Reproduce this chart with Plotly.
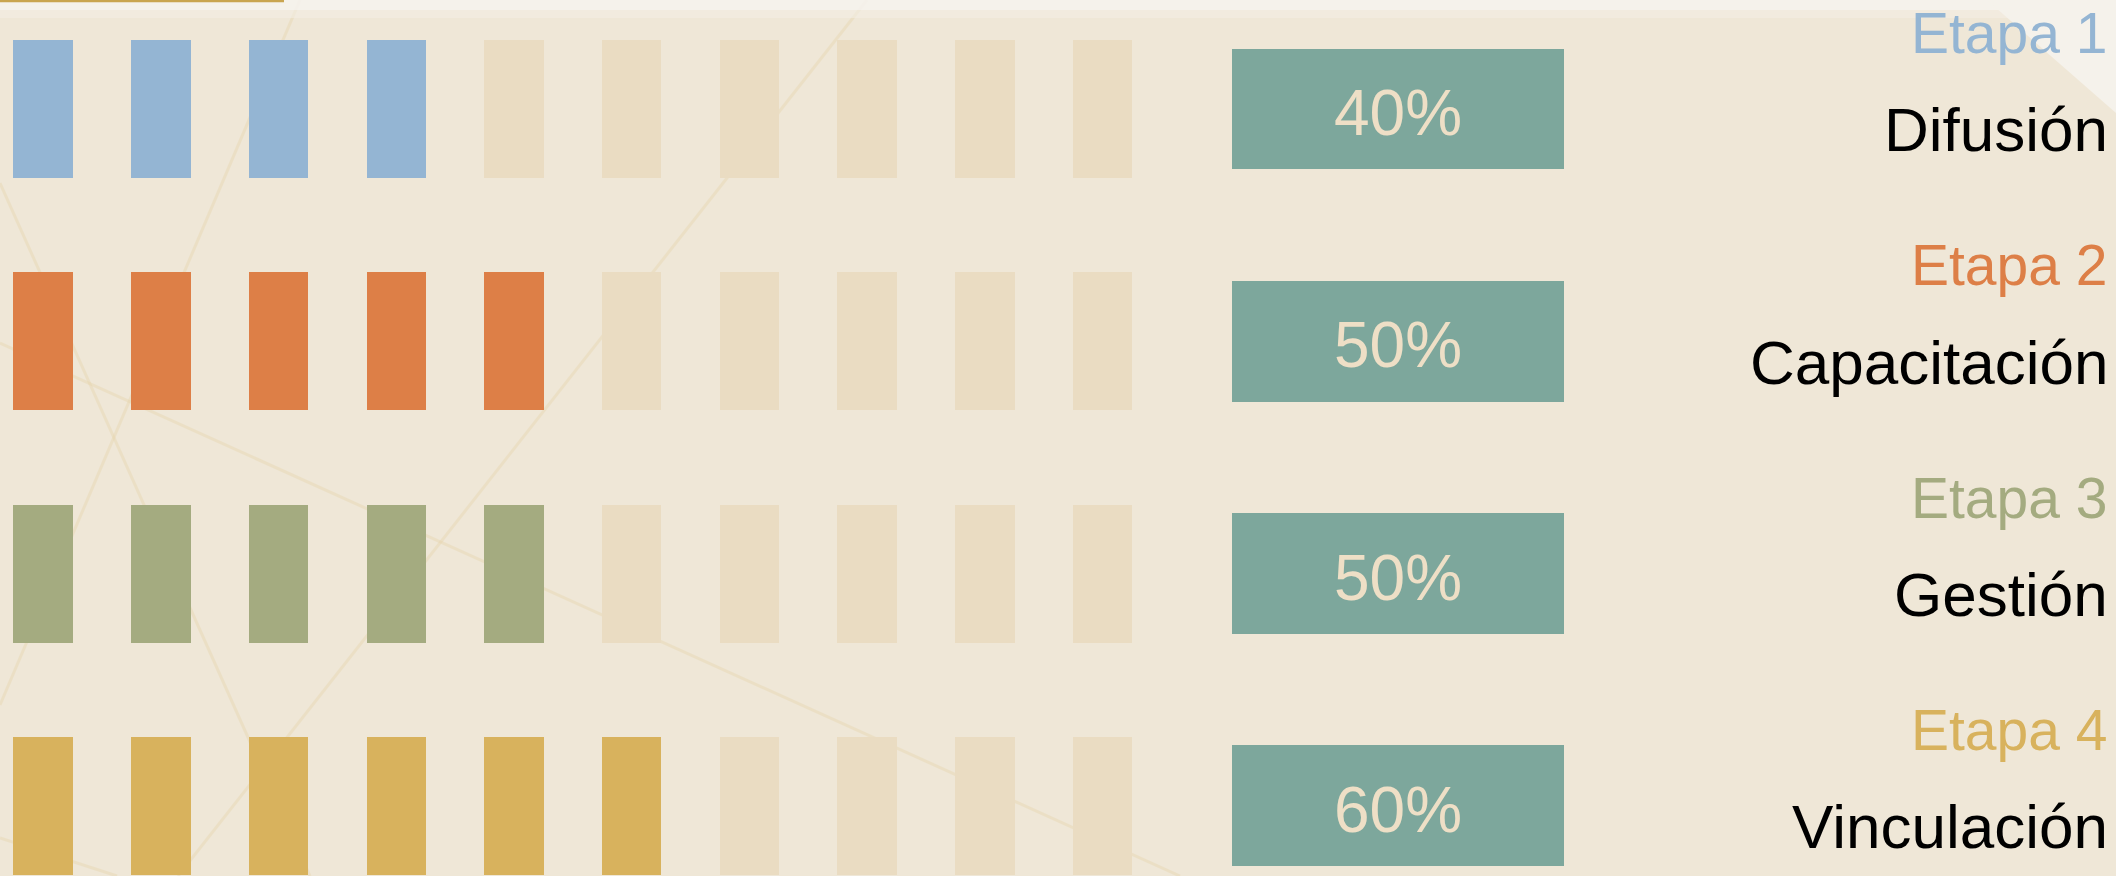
import plotly.graph_objects as go

# ---------------- data ----------------
stages = ["Etapa 1", "Etapa 2", "Etapa 3", "Etapa 4"]
areas = ["Difusión", "Capacitación", "Gestión", "Vinculación"]
progress = [40, 50, 50, 60]          # percent complete
stage_colors = ["#94B5D3", "#DD7F47", "#A4AB80", "#D8B25D"]
n_cells = 10                          # cells per row
cell_value = 10                       # percent per cell

# ---------------- style ----------------
empty_color = "#EADCC2"
box_color = "#7DA79C"
pct_color = "#EEDFC6"
bg_color = "#EFE7D7"
font_family = "Liberation Sans, Arial, sans-serif"
W, H = 2116, 876

# geometry in axis units (x: one unit per cell, y: one unit per row)
bar_w = 0.505
bar_h = 0.594
box_x = 11.51
box_w = 2.82
box_h = 0.52
x_range = [-0.367, 17.611]
y_range = [3.302, -0.469]

fig = go.Figure()

for r, (p, col) in enumerate(zip(progress, stage_colors)):
    filled = p // cell_value
    xs_f = list(range(filled))
    xs_e = list(range(filled, n_cells))
    fig.add_trace(go.Bar(
        x=xs_f, y=[bar_h] * len(xs_f), base=[r - bar_h / 2] * len(xs_f),
        width=bar_w, marker=dict(color=col, line=dict(width=0)),
        name=stages[r], hoverinfo="skip", showlegend=False))
    fig.add_trace(go.Bar(
        x=xs_e, y=[bar_h] * len(xs_e), base=[r - bar_h / 2] * len(xs_e),
        width=bar_w, marker=dict(color=empty_color, line=dict(width=0)),
        hoverinfo="skip", showlegend=False))

# percentage boxes
rows = list(range(len(progress)))
fig.add_trace(go.Bar(
    x=[box_x] * len(rows), y=[box_h] * len(rows),
    base=[r - box_h / 2 for r in rows], width=box_w,
    marker=dict(color=box_color, line=dict(width=0)),
    hoverinfo="skip", showlegend=False))

annotations = []
for r, p in enumerate(progress):
    annotations.append(dict(
        x=box_x, y=r + 0.018, xref="x", yref="y", text=f"{p}%", showarrow=False,
        xanchor="center", yanchor="middle",
        font=dict(family=font_family, size=64, color=pct_color)))
    annotations.append(dict(
        x=2110 / W, y=r - 0.327, xref="paper", yref="y", text=stages[r],
        showarrow=False, xanchor="right", yanchor="middle",
        font=dict(family=font_family, size=57, color=stage_colors[r])))
    annotations.append(dict(
        x=2110 / W, y=r + 0.09, xref="paper", yref="y", text=areas[r],
        showarrow=False, xanchor="right", yanchor="middle",
        font=dict(family=font_family, size=62, color="#000000")))

# ---------------- background decoration (pixel coords) ----------------
deco_lines = [
    ((0, 183), (310, 876)),
    ((300, 0), (0, 705)),
    ((0, 343), (1180, 876)),
    ((867, 0), (178, 876)),
    ((0, 838), (117, 876)),
]
shapes = []
for (x0, y0), (x1, y1) in deco_lines:
    shapes.append(dict(
        type="line", xref="paper", yref="paper", layer="below",
        x0=x0 / W, y0=1 - y0 / H, x1=x1 / W, y1=1 - y1 / H,
        line=dict(color="#E6D3A6", width=3), opacity=0.35))
# light top strip and top-right corner
shapes.append(dict(type="rect", xref="paper", yref="paper", layer="below",
                   x0=0, x1=1, y0=1 - 10 / H, y1=1,
                   fillcolor="#F6F3EE", line=dict(width=0), opacity=0.85))
shapes.append(dict(type="rect", xref="paper", yref="paper", layer="below",
                   x0=0, x1=1, y0=1 - 18 / H, y1=1 - 10 / H,
                   fillcolor="#F3EEE4", line=dict(width=0), opacity=0.6))
shapes.append(dict(type="path", xref="paper", yref="paper", layer="below",
                   path=f"M {1987 / W} 1 L 1 1 L 1 {1 - 113 / H} Z",
                   fillcolor="#F5F2EB", line=dict(width=0)))
shapes.append(dict(type="line", xref="paper", yref="paper", layer="above",
                   x0=0, x1=284 / W, y0=1 - 1 / H, y1=1 - 1 / H,
                   line=dict(color="#C9A550", width=2.5)))

fig.update_layout(
    width=W, height=H, autosize=False,
    margin=dict(l=0, r=0, t=0, b=0, pad=0),
    paper_bgcolor=bg_color, plot_bgcolor="rgba(0,0,0,0)",
    barmode="overlay", bargap=0,
    xaxis=dict(range=x_range, visible=False, fixedrange=True),
    yaxis=dict(range=y_range, visible=False, fixedrange=True),
    annotations=annotations, shapes=shapes, showlegend=False,
)

fig.write_html("out.html", config={"displayModeBar": False},
               post_script="document.body.style.margin='0';document.body.style.overflow='hidden';")
